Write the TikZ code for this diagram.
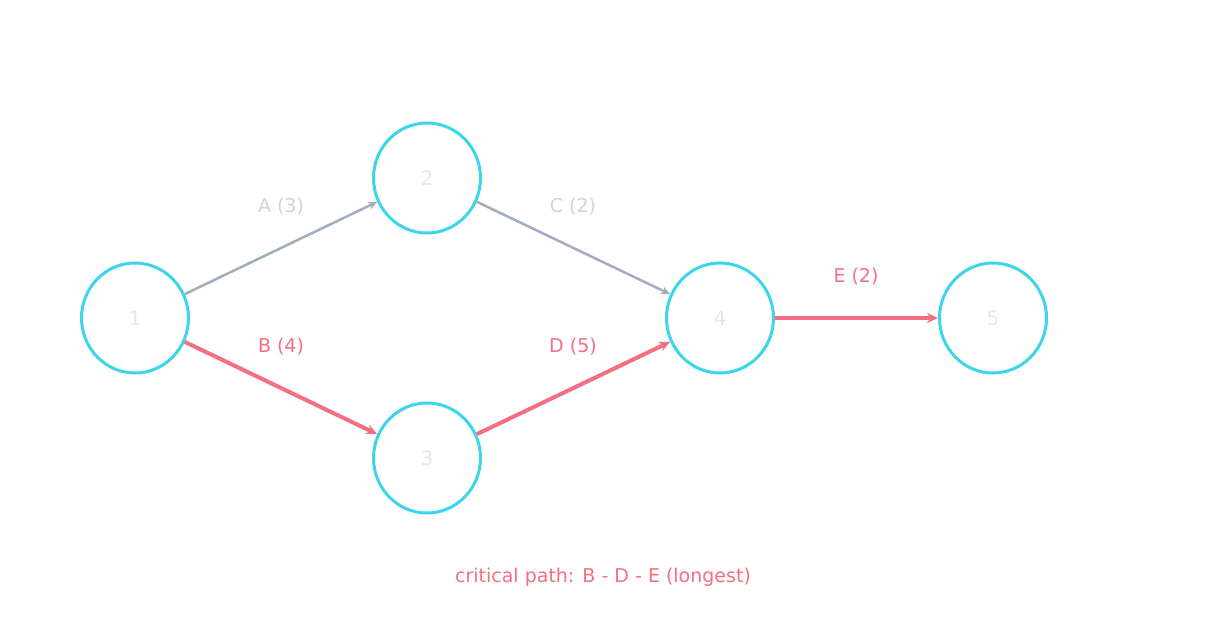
\documentclass[tikz,border=0pt]{standalone}
\usepackage{fontspec}
\setmainfont{DejaVu Sans}
\usetikzlibrary{shapes.geometric,arrows.meta}
\definecolor{cy}{HTML}{3DD5EC}
\definecolor{nt}{HTML}{E2E8F0}
\definecolor{gr}{HTML}{A0AEC0}
\definecolor{lb}{HTML}{CBD5E1}
\definecolor{rd}{HTML}{F56F82}
\begin{document}
\begin{tikzpicture}[x=1bp,y=-1bp,
 nd/.style={ellipse,draw=cy,line width=3bp,minimum width=107bp,minimum height=110bp,inner sep=0pt,text=nt,font=\fontsize{20bp}{24bp}\selectfont},
 ga/.style={draw=gr,line width=2.5bp,-{Stealth[length=9bp,width=8bp]}},
 ra/.style={draw=rd,line width=4bp,-{Stealth[length=11bp,width=10bp]}},
 lg/.style={text=lb,font=\fontsize{19bp}{23bp}\selectfont},
 lr/.style={text=rd,font=\fontsize{19bp}{23bp}\selectfont}]
\useasboundingbox[fill=white] (0,0) rectangle (1206,636);
\node[nd] (n1) at (135,318) {1};
\node[nd] (n2) at (427,178) {2};
\node[nd] (n3) at (427,458) {3};
\node[nd] (n4) at (720,318) {4};
\node[nd] (n5) at (993,318) {5};
\draw[ga] (n1) -- (n2);
\draw[ga] (n2) -- (n4);
\draw[ra] (n1) -- (n3);
\draw[ra] (n3) -- (n4);
\draw[ra] (n4) -- (n5);
\node[lg] (la) at (281,207) {A (3)};
\node[lg] (lc) at (573,207) {C (2)};
\node[lr] (lbb) at (281,347) {B (4)};
\node[lr] (ld) at (573,347) {D (5)};
\node[lr] (le) at (856,277) {E (2)};
\node[lr] (cp) at (603,577) {critical path: B - D - E (longest)};
\end{tikzpicture}
\end{document}
